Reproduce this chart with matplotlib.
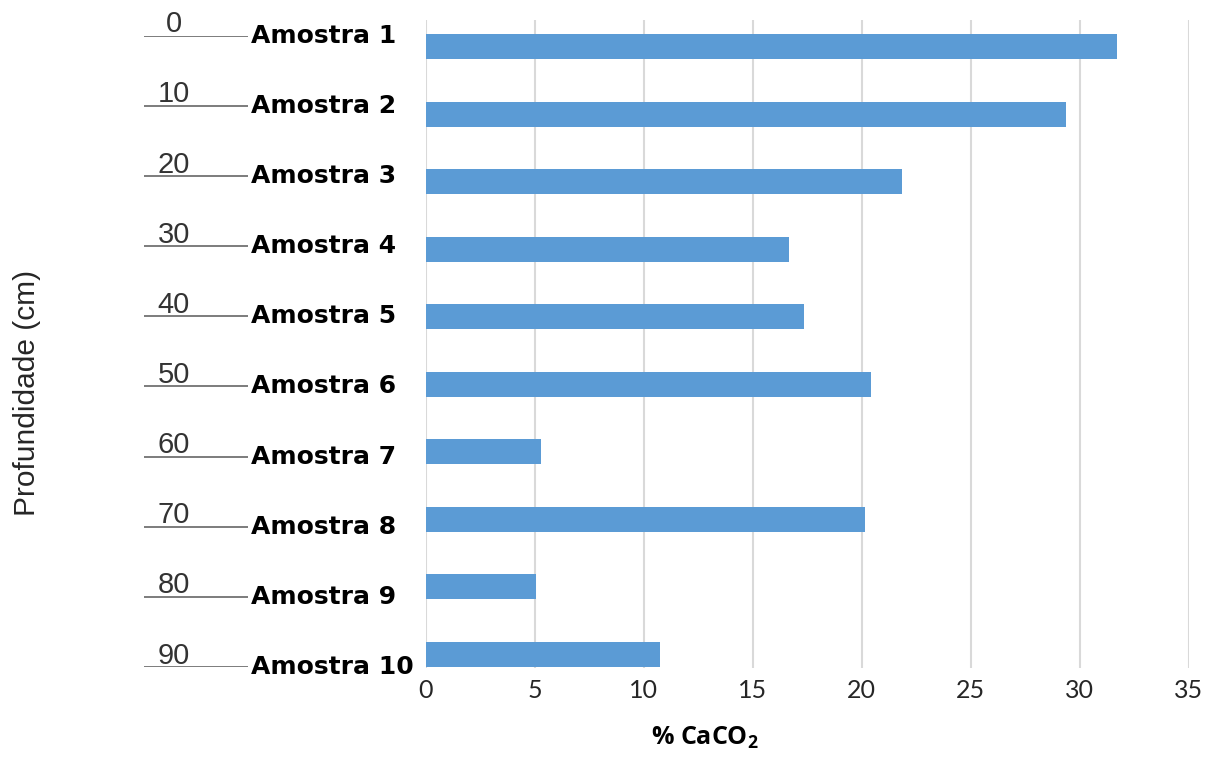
import numpy as np
import matplotlib
matplotlib.use("Agg")
import matplotlib.pyplot as plt

plt.rcParams["mathtext.fontset"] = "custom"
plt.rcParams["mathtext.rm"] = "Open Sans:bold"
plt.rcParams["mathtext.it"] = "Open Sans:bold"
plt.rcParams["mathtext.bf"] = "Open Sans:bold"

# data
samples = ["Amostra 1", "Amostra 2", "Amostra 3", "Amostra 4", "Amostra 5",
           "Amostra 6", "Amostra 7", "Amostra 8", "Amostra 9", "Amostra 10"]
caco3 = [31.7, 29.37, 21.85, 16.67, 17.35, 20.43, 5.29, 20.15, 5.06, 10.75]
depths = [0, 10, 20, 30, 40, 50, 60, 70, 80, 90]
xticks = [0, 5, 10, 15, 20, 25, 30, 35]

W, H = 1216, 761
BLUE = "#5b9bd5"
GRID = "#d9d9d9"

fig = plt.figure(figsize=(W / 100, H / 100), dpi=100)

# main bar axes
ax = fig.add_axes([425.7 / W, 1 - 668 / H, 763 / W, 648 / H])
ypos = np.arange(len(samples))
ax.barh(ypos, caco3, height=0.37, color=BLUE, zorder=2)
ax.set_xlim(0, 35)
ax.set_ylim(9.2, -0.392)
for t in xticks:
    ax.axvline(t, color=GRID, lw=1.5, zorder=0)
for s in ax.spines.values():
    s.set_visible(False)
ax.set_yticks([])
ax.set_xticks(xticks)
ax.tick_params(axis="x", length=0, pad=8, labelsize=18, labelcolor="#262626")
for lab in ax.get_xticklabels():
    lab.set_family("Lato")

# depth scale on the left
ax2 = fig.add_axes([144 / W, 1 - 667 / H, 104 / W, (667 - 35.7) / H])
ax2.set_xlim(0, 1)
ax2.set_ylim(90, 0)
ax2.axis("off")
ax2.hlines(depths, 0, 1, color="#595959", lw=1.1)
for d, name in zip(depths, samples):
    ax2.annotate(str(d), (0.288, d), xytext=(0, 2.5), textcoords="offset points",
                 ha="center", va="baseline", fontsize=21,
                 family="Liberation Sans", color="#333333",
                 annotation_clip=False)
    ax2.text(1.029, d, name, ha="left", va="center", fontsize=18,
             fontweight="bold", family="DejaVu Sans", color="black",
             clip_on=False)

fig.text(27 / W, 1 - 392.5 / H, "Profundidade (cm)", rotation=90,
         ha="center", va="center", fontsize=21.5, family="Liberation Sans",
         color="#262626")
fig.text(705 / W, 1 - 737.7 / H, "% CaCO$_2$", ha="center", va="center",
         fontsize=18, fontweight="bold", family="Open Sans", color="black")

fig.savefig("out.png", dpi=100)
